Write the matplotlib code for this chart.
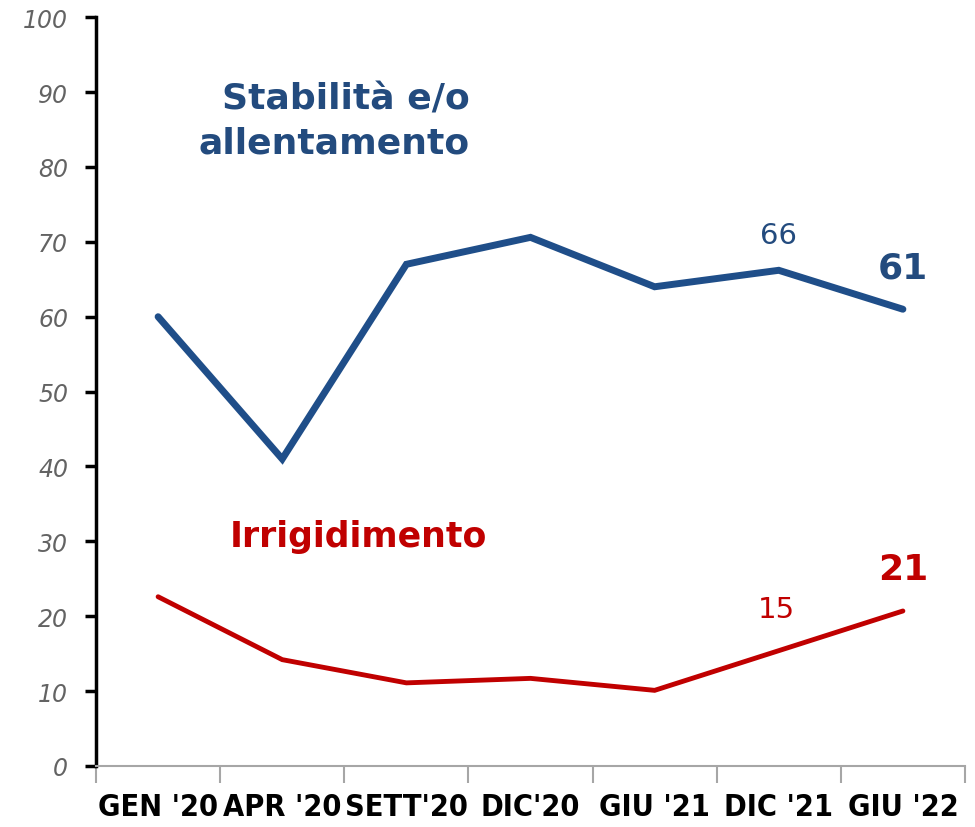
import numpy as np
import matplotlib.pyplot as plt

periodi = ["GEN '20", "APR '20", "SETT'20", "DIC'20", "GIU '21", "DIC '21", "GIU '22"]
stabilita = [60, 41, 67, 70.6, 64, 66.2, 61]
irrigidimento = [22.6, 14.2, 11.1, 11.7, 10.1, 15.4, 20.7]

blu = '#1F4E89'
blu_testo = '#234B7E'
rosso = '#C00000'

fig = plt.figure(figsize=(9.75, 8.28), dpi=100)
ax = fig.add_axes([0.0985, 0.0737, 0.8912, 0.9043])

x = np.arange(len(periodi))
ax.plot(x, stabilita, color=blu, lw=5, solid_capstyle='round', solid_joinstyle='miter')
ax.plot(x, irrigidimento, color=rosso, lw=3.5, solid_capstyle='round', solid_joinstyle='miter')

ax.set_xlim(-0.5, len(periodi) - 0.5)
ax.set_ylim(0, 100)

# y axis
ax.set_yticks(np.arange(0, 101, 10))
ax.set_yticklabels([str(v) for v in range(0, 101, 10)], fontstyle='italic',
                   color='#636363', fontsize=17, family='DejaVu Sans')
ax.tick_params(axis='y', direction='out', length=8, width=2.5, color='black', pad=12)
ax.spines['left'].set_color('black')
ax.spines['left'].set_linewidth(2.5)

# x axis: ticks on category boundaries, labels at centers
ax.set_xticks(np.arange(-0.5, len(periodi), 1.0))
ax.set_xticklabels([])
ax.set_xticks(x, minor=True)
ax.set_xticklabels(periodi, minor=True, fontsize=22, fontweight='bold',
                   family='DejaVu Sans', fontstretch='condensed', color='black')
ax.tick_params(axis='x', which='major', direction='out', length=12, width=1.5, color='#A6A6A6')
ax.tick_params(axis='x', which='minor', length=0, pad=19)
ax.spines['bottom'].set_color('#A6A6A6')
ax.spines['bottom'].set_linewidth(1.5)
ax.spines['top'].set_visible(False)
ax.spines['right'].set_visible(False)

# series titles
ax.text(2.51, 86.2, "Stabilità e/o\nallentamento", color=blu_testo, fontsize=26,
        fontweight='bold', family='DejaVu Sans', ha='right', va='center', linespacing=1.4)
ax.text(0.58, 30.7, "Irrigidimento", color=rosso, fontsize=25,
        fontweight='bold', family='DejaVu Sans', ha='left', va='center')

# data labels
ax.text(x[5], stabilita[5] + 4.7, f"{round(stabilita[5])}", color=blu_testo, fontsize=21,
        family='DejaVu Sans', ha='center', va='center')
ax.text(x[6], stabilita[6] + 5.6, f"{round(stabilita[6])}", color=blu_testo, fontsize=26,
        fontweight='bold', family='DejaVu Sans', ha='center', va='center')
ax.text(x[5] - 0.02, irrigidimento[5] + 5.6, f"{round(irrigidimento[5])}", color=rosso,
        fontsize=21, family='DejaVu Sans', ha='center', va='center')
ax.text(x[6], irrigidimento[6] + 5.6, f"{round(irrigidimento[6])}", color=rosso, fontsize=26,
        fontweight='bold', family='DejaVu Sans', ha='center', va='center')

fig.savefig('out.png', dpi=100)
